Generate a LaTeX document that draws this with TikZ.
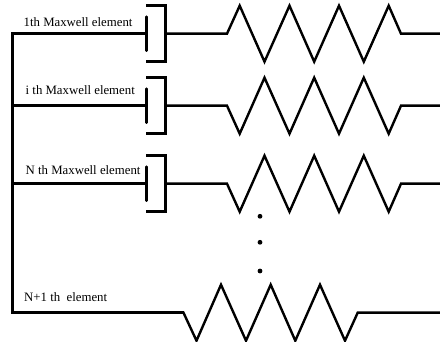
\documentclass[tikz,border=0pt]{standalone}
\usepackage{fontspec}
\setmainfont{Liberation Serif}
\tikzset{
  wire/.style={line width=2.4pt,line cap=butt,line join=miter,black},
  busline/.style={line width=2.6pt,line join=miter,black},
  plate/.style={line width=2.6pt,line cap=round,black},
  label/.style={anchor=base west,inner sep=0pt,font=\fontsize{12.8}{14}\selectfont,text=black},
  dotmark/.style={circle,fill=black,inner sep=0pt,minimum size=4.8pt}
}
\begin{document}
\begin{tikzpicture}[x=1pt,y=-1pt]
\useasboundingbox (0,0) rectangle (440,342);
\fill[white] (0,0) rectangle (440,342);
\coordinate (top) at (12.5,33.7);
\coordinate (bottom) at (12.5,312.7);
\draw[busline] (145,33.7) -- (top) -- (bottom) -- (183.5,312.7);
\foreach \name/\yc/\first in {a/33.7/-28,b/105.7/28,c/183.7/28}{
  \coordinate (\name in) at (12.5,\yc);
  \coordinate (\name pa) at (146.5,\yc-17);
  \coordinate (\name pb) at (146.5,\yc+17);
  \coordinate (\name ct) at (146,\yc-28);
  \coordinate (\name cr) at (165.5,\yc-28);
  \coordinate (\name br) at (165.5,\yc+28);
  \coordinate (\name cb) at (146,\yc+28);
  \coordinate (\name out) at (165.5,\yc);
  \draw[wire] (\name in) -- (146.5,\yc);
  \draw[plate] (\name pa) -- (\name pb);
  \draw[wire] (\name ct) -- (\name cr) -- (\name br) -- (\name cb);
  \draw[wire] (\name out) -- (227,\yc) -- (239.7,\yc+\first)
    -- (264.5,\yc-\first) -- (289.5,\yc+\first) -- (314.2,\yc-\first)
    -- (339,\yc+\first) -- (363.8,\yc-\first) -- (388.7,\yc+\first)
    -- (401,\yc) -- (440,\yc);
}
\draw[wire] (bottom) -- (183.5,312.7) -- (196.5,340.7) -- (221,284.7) -- (246,340.7)
  -- (270.7,284.7) -- (295.3,340.7) -- (320,284.7) -- (345,340.7) -- (357.7,312.7) -- (440,312.7);
\node[label] (la) at (23.5,26.7) {1th Maxwell element};
\node[label] (lb) at (25.5,94.7) {i th Maxwell element};
\node[label] (lc) at (25.5,174.2) {N th Maxwell element};
\node[label] (ld) at (24,302) {N+1 th\ \ element};
\node[dotmark] (d1) at (260,216.3) {};
\node[dotmark] (d2) at (260,242.3) {};
\node[dotmark] (d3) at (260,271) {};
\end{tikzpicture}
\end{document}
